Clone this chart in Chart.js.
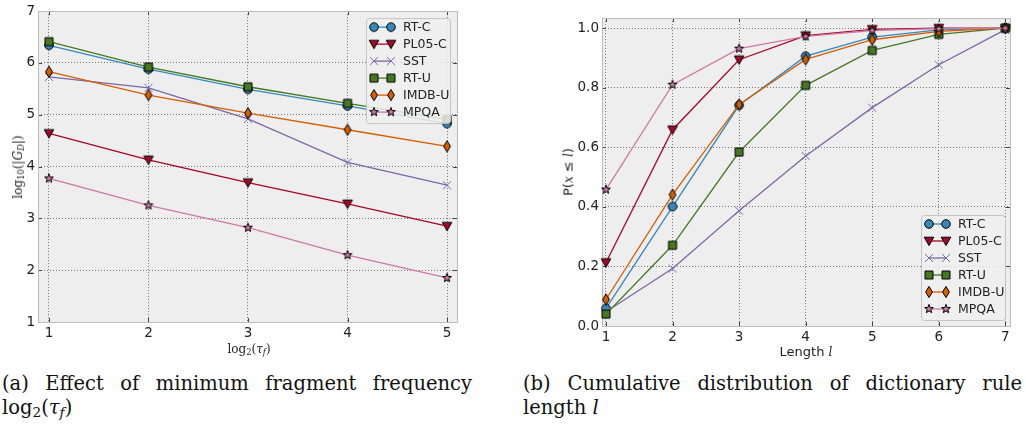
<!DOCTYPE html>
<html>
<head>
<meta charset="utf-8">
<script src="https://cdn.jsdelivr.net/npm/chart.js@4.4.0/dist/chart.umd.min.js"></script>
<style>
  body { margin: 0; background: #fff; width: 1026px; height: 426px; position: relative; overflow: hidden; }
  canvas { position: absolute; top: 0; }
  #chartA { left: 0; }
  #chartB { left: 520px; }
  .lbl { position: absolute; white-space: nowrap; color: #222; transform: translate(-50%, -50%); }
  .math { font-family: 'DejaVu Serif', serif; font-size: 12px; }
  .sans { font-family: 'DejaVu Sans', sans-serif; font-size: 13px; }
  .rot { transform: translate(-50%, -50%) rotate(-90deg); }
  sub { font-size: 70%; vertical-align: -0.25em; line-height: 0; }
  .cap { position: absolute; font-family: 'DejaVu Serif', serif; font-size: 19.5px; line-height: 24px; color: #111; }
  .cap .l1 { text-align: justify; text-align-last: justify; }
</style>
</head>
<body>
<canvas id="chartA" width="480" height="345"></canvas>
<canvas id="chartB" width="506" height="345"></canvas>

<div class="lbl math rot" style="left:18px; top:167px;">log<sub>10</sub>(|<i>G</i><sub><i>D</i></sub>|)</div>
<div class="lbl math" style="left:249px; top:349px;">log<sub>2</sub>(<i>τ</i><sub><i>f</i></sub>)</div>
<div class="lbl sans rot" style="left:568px; top:172px;">P(<i class="math">x</i> ≤ <i class="math">l</i>)</div>
<div class="lbl sans" style="left:806px; top:351px;">Length <i class="math">l</i></div>

<div class="cap" style="left:2px; top:372px; width:470px;">
  <div class="l1">(a) Effect of minimum fragment frequency</div>
  <div>log<sub>2</sub>(<i>τ</i><sub><i>f</i></sub>)</div>
</div>
<div class="cap" style="left:523px; top:372px; width:499px;">
  <div class="l1">(b) Cumulative distribution of dictionary rule</div>
  <div>length <i>l</i></div>
</div>

<script>
// series names and look
const SERIES = ['RT-C', 'PL05-C', 'SST', 'RT-U', 'IMDB-U', 'MPQA'];
const COLORS = ['#348ABD', '#A60628', '#7A68A6', '#467821', '#D55E00', '#CC79A7'];
const SHAPES = ['circle', 'tri', 'x', 'square', 'diamond', 'star'];

// (a) log10 |G_D| against log2(tau_f)
const TAU_F = [1, 2, 3, 4, 5];
const RTC_A = [6.34, 5.88, 5.49, 5.17, 4.83];
const PL05C_A = [4.64, 4.13, 3.69, 3.28, 2.85];
const SST_A = [5.73, 5.52, 4.92, 4.08, 3.64];
const RTU_A = [6.41, 5.92, 5.54, 5.22, 4.91];
const IMDBU_A = [5.83, 5.38, 5.03, 4.71, 4.39];
const MPQA_A = [3.77, 3.25, 2.82, 2.29, 1.85];
const X_TICKS_A = [1, 2, 3, 4, 5];
const Y_TICKS_A = [1, 2, 3, 4, 5, 6, 7];

// (b) cumulative distribution of rule length
const LENGTH = [1, 2, 3, 4, 5, 6, 7];
const RTC_B = [0.059, 0.401, 0.741, 0.906, 0.970, 0.994, 1.0];
const PL05C_B = [0.213, 0.659, 0.894, 0.975, 0.996, 1.0, 1.0];
const SST_B = [0.048, 0.193, 0.387, 0.571, 0.733, 0.877, 0.995];
const RTU_B = [0.040, 0.271, 0.584, 0.808, 0.925, 0.979, 1.0];
const IMDBU_B = [0.089, 0.441, 0.744, 0.895, 0.961, 0.989, 1.0];
const MPQA_B = [0.458, 0.810, 0.931, 0.972, 0.992, 0.998, 1.0];
const X_TICKS_B = [1, 2, 3, 4, 5, 6, 7];
const Y_TICKS_B = [0, 0.2, 0.4, 0.6, 0.8, 1.0];

function makeMarker(shape, color) {
  const c = document.createElement('canvas');
  c.width = c.height = 14;
  const g = c.getContext('2d');
  g.translate(7, 7);
  g.fillStyle = color;
  g.strokeStyle = '#000';
  g.lineWidth = 1;
  g.beginPath();
  if (shape === 'circle') {
    g.arc(0, 0, 4.3, 0, 2 * Math.PI);
  } else if (shape === 'tri') {
    g.moveTo(-4.8, -3.8); g.lineTo(4.8, -3.8); g.lineTo(0, 4.6); g.closePath();
  } else if (shape === 'square') {
    g.rect(-4, -4, 8, 8);
  } else if (shape === 'diamond') {
    g.moveTo(0, -5.6); g.lineTo(3.4, 0); g.lineTo(0, 5.6); g.lineTo(-3.4, 0); g.closePath();
  } else if (shape === 'star') {
    for (let i = 0; i < 10; i++) {
      const r = i % 2 ? 1.9 : 4.6;
      const a = -Math.PI / 2 + i * Math.PI / 5;
      g.lineTo(r * Math.cos(a), r * Math.sin(a));
    }
    g.closePath();
  } else if (shape === 'x') {
    g.strokeStyle = color;
    g.moveTo(-4, -4); g.lineTo(4, 4);
    g.moveTo(4, -4); g.lineTo(-4, 4);
    g.stroke();
    return c;
  }
  g.fill();
  g.stroke();
  return c;
}

const MARKERS = SHAPES.map((s, i) => makeMarker(s, COLORS[i]));

// background, frame, inner ticks and in-axes legend
const framePlugin = {
  id: 'frame',
  beforeDraw(chart) {
    const a = chart.chartArea, ctx = chart.ctx;
    ctx.save();
    ctx.fillStyle = '#eeeeee';
    ctx.fillRect(a.left, a.top, a.right - a.left, a.bottom - a.top);
    ctx.restore();
  },
  beforeDatasetsDraw(chart) {
    const a = chart.chartArea, ctx = chart.ctx;
    ctx.save();
    ctx.strokeStyle = '#444';
    ctx.lineWidth = 1;
    ctx.beginPath();
    chart.scales.x.ticks.forEach(t => {
      const px = Math.round(chart.scales.x.getPixelForValue(t.value)) + 0.5;
      ctx.moveTo(px, a.bottom); ctx.lineTo(px, a.bottom - 4);
      ctx.moveTo(px, a.top); ctx.lineTo(px, a.top + 4);
    });
    chart.scales.y.ticks.forEach(t => {
      const py = Math.round(chart.scales.y.getPixelForValue(t.value)) + 0.5;
      ctx.moveTo(a.left, py); ctx.lineTo(a.left + 4, py);
      ctx.moveTo(a.right, py); ctx.lineTo(a.right - 4, py);
    });
    ctx.stroke();
    ctx.strokeStyle = '#bcbcbc';
    ctx.strokeRect(Math.round(a.left) + 0.5, Math.round(a.top) + 0.5,
      Math.round(a.right - a.left), Math.round(a.bottom - a.top));
    ctx.restore();
  },
  afterDatasetsDraw(chart, args, opts) {
    const a = chart.chartArea, ctx = chart.ctx;
    const w = 84, h = 105;
    const left = a.right - opts.dx - w;
    const top = opts.corner === 'top' ? a.top + opts.dy : a.bottom - opts.dy - h;
    ctx.save();
    ctx.beginPath();
    ctx.roundRect(left + 0.5, top + 0.5, w, h, 3);
    ctx.fillStyle = 'rgba(238,238,238,0.85)';
    ctx.fill();
    ctx.strokeStyle = '#c4c4c4';
    ctx.lineWidth = 1;
    ctx.stroke();
    ctx.font = '12.5px "DejaVu Sans"';
    ctx.textBaseline = 'middle';
    ctx.fillStyle = '#222';
    SERIES.forEach((name, i) => {
      const y = top + 9 + i * 17;
      ctx.beginPath();
      ctx.strokeStyle = COLORS[i];
      ctx.lineWidth = 1.3;
      ctx.moveTo(left + 8, y); ctx.lineTo(left + 25, y);
      ctx.stroke();
      const m = MARKERS[i];
      ctx.drawImage(m, left + 8 - 7, y - 7);
      ctx.drawImage(m, left + 25 - 7, y - 7);
      ctx.fillText(name, left + 37, y + 1);
    });
    ctx.restore();
  }
};

function buildDatasets(xs, seriesValues) {
  return seriesValues.map((vals, i) => ({
    label: SERIES[i],
    data: xs.map((x, j) => ({ x: x, y: vals[j] })),
    borderColor: COLORS[i],
    backgroundColor: COLORS[i],
    borderWidth: 1.3,
    pointStyle: MARKERS[i],
    pointRadius: 5,
    order: -i,
    tension: 0,
    clip: false
  }));
}

function axisOptions(min, max, tickList, width, fmt) {
  return {
    type: 'linear',
    min: min,
    max: max,
    afterBuildTicks: s => { s.ticks = tickList.map(v => ({ value: v })); },
    afterFit: width,
    grid: { color: '#555', lineWidth: 0.8, drawTicks: false },
    border: { display: false, dash: [1, 2] },
    ticks: {
      color: '#222',
      font: { family: 'DejaVu Sans', size: 13.5 },
      padding: 3,
      callback: fmt
    }
  };
}

function makeChart(id, xs, seriesValues, xr, yr, xTicks, yTicks, yWidth, xHeight, pad, legend, yFmt) {
  new Chart(document.getElementById(id), {
    type: 'line',
    data: { datasets: buildDatasets(xs, seriesValues) },
    options: {
      responsive: false,
      animation: false,
      layout: { padding: pad },
      plugins: { legend: { display: false }, tooltip: { enabled: false }, frame: legend },
      scales: {
        x: axisOptions(xr[0], xr[1], xTicks, s => { s.height = xHeight; }, v => String(v)),
        y: axisOptions(yr[0], yr[1], yTicks, s => { s.width = yWidth; }, yFmt)
      }
    },
    plugins: [framePlugin]
  });
}

makeChart('chartA', TAU_F, [RTC_A, PL05C_A, SST_A, RTU_A, IMDBU_A, MPQA_A],
  [0.89, 5.1], [1, 7], X_TICKS_A, Y_TICKS_A, 38, 23,
  { top: 8, right: 23, left: 0, bottom: 0 }, { corner: 'top', dx: 7, dy: 7 }, v => String(v));

makeChart('chartB', LENGTH, [RTC_B, PL05C_B, SST_B, RTU_B, IMDBU_B, MPQA_B],
  [0.94, 7.07], [0, 1.034], X_TICKS_B, Y_TICKS_B, 82, 19,
  { top: 18, right: 16, left: 0, bottom: 0 }, { corner: 'bottom', dx: 5, dy: 6 }, v => v.toFixed(1));
</script>
</body>
</html>
